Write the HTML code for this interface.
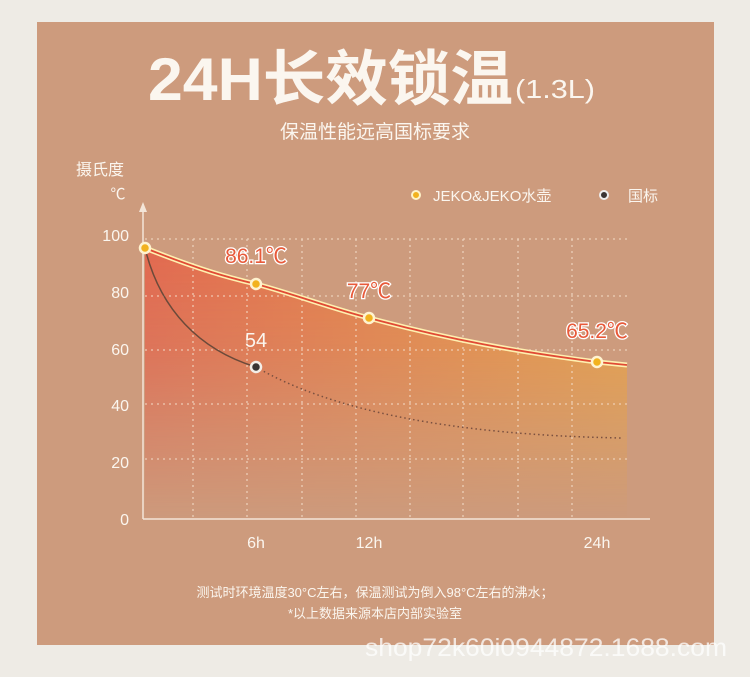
<!DOCTYPE html>
<html><head><meta charset="utf-8"><style>
body{margin:0;width:750px;height:677px;background:#eeebe5;overflow:hidden;font-family:"Liberation Sans","Noto Sans CJK SC",sans-serif}
</style></head><body>
<svg width="750" height="677" xmlns="http://www.w3.org/2000/svg" style="position:absolute;left:0;top:0">
<defs>
<linearGradient id="fh" x1="0" y1="0" x2="1" y2="0">
<stop offset="0" stop-color="#e2684f"/><stop offset="1" stop-color="#e8a248"/></linearGradient>
<linearGradient id="fv" x1="0" y1="0" x2="0" y2="1">
<stop offset="0" stop-color="#fff" stop-opacity="1"/><stop offset="0.4" stop-color="#fff" stop-opacity="0.75"/><stop offset="1" stop-color="#fff" stop-opacity="0"/></linearGradient>
<mask id="m"><rect x="0" y="240" width="750" height="280" fill="url(#fv)"/></mask>
</defs>
<rect x="37" y="22" width="677" height="623" fill="#cd9b7d"/>
<text x="148" y="100" font-size="60" font-weight="bold" fill="#fbf6ef" textLength="365" lengthAdjust="spacingAndGlyphs">24H长效锁温</text>
<text x="515" y="98" font-size="26" fill="#fbf6ef" textLength="80" lengthAdjust="spacingAndGlyphs">(1.3L)</text>
<text x="375" y="138" text-anchor="middle" font-size="19" fill="#fbf6ef">保温性能远高国标要求</text>
<text x="100" y="175" text-anchor="middle" font-size="16" fill="#fbf6ef">摄氏度</text>
<text x="118" y="199" text-anchor="middle" font-size="15" fill="#fbf6ef">℃</text>
<circle cx="416" cy="195" r="4" fill="#f2b21f" stroke="#fff3c8" stroke-width="2"/>
<text x="433" y="201" font-size="15" fill="#fbf6ef">JEKO&amp;JEKO水壶</text>
<circle cx="604" cy="195" r="4" fill="#3a3433" stroke="#eee" stroke-width="2"/>
<text x="628" y="201" font-size="15" fill="#fbf6ef">国标</text>
<path d="M145 248 C200 270 230 278 256 284 C300 296 330 308 369 318 C450 340 520 352 597 362 L627 365 L627 518 L145 518 Z" fill="url(#fh)" mask="url(#m)"/>
<g stroke="#f3dcc8" stroke-width="1.3" stroke-dasharray="2 4" opacity="0.8">
<line x1="145" y1="239" x2="630" y2="239"/><line x1="145" y1="296" x2="630" y2="296"/><line x1="145" y1="350" x2="630" y2="350"/><line x1="145" y1="404" x2="630" y2="404"/><line x1="145" y1="459" x2="630" y2="459"/>
<line x1="193" y1="239" x2="193" y2="518"/><line x1="247" y1="239" x2="247" y2="518"/><line x1="302" y1="239" x2="302" y2="518"/><line x1="356" y1="239" x2="356" y2="518"/><line x1="410" y1="239" x2="410" y2="518"/><line x1="463" y1="239" x2="463" y2="518"/><line x1="518" y1="239" x2="518" y2="518"/><line x1="572" y1="239" x2="572" y2="518"/>
</g>
<line x1="143" y1="205" x2="143" y2="519" stroke="#f3e5d8" stroke-width="1.5"/>
<path d="M139 212 L143 202 L147 212 Z" fill="#f3e5d8"/>
<line x1="143" y1="519" x2="650" y2="519" stroke="#f3e5d8" stroke-width="1.5"/>
<g font-size="16" fill="#fbf6ef" text-anchor="end">
<text x="129" y="241">100</text><text x="129" y="298">80</text><text x="129" y="355">60</text><text x="129" y="411">40</text><text x="129" y="468">20</text><text x="129" y="525">0</text></g>
<g font-size="16" fill="#fbf6ef" text-anchor="middle"><text x="256" y="548">6h</text><text x="369" y="548">12h</text><text x="597" y="548">24h</text></g>
<path d="M145 248 C160 310 200 350 256 367" fill="none" stroke="#6b4a3a" stroke-width="1.5"/>
<path d="M256 367 C330 410 450 435 622 438" fill="none" stroke="#7a5040" stroke-width="1.5" stroke-dasharray="1.5 3"/>
<path d="M145 248 C200 270 230 278 256 284 C300 296 330 308 369 318 C450 340 520 352 597 362 L627 365" fill="none" stroke="#fff0b0" stroke-width="5"/>
<path d="M145 248 C200 270 230 278 256 284 C300 296 330 308 369 318 C450 340 520 352 597 362 L627 365" fill="none" stroke="#e04a35" stroke-width="1.8"/>
<g fill="#f2b21f" stroke="#fff3d0" stroke-width="2.5">
<circle cx="145" cy="248" r="5"/><circle cx="256" cy="284" r="5"/><circle cx="369" cy="318" r="5"/><circle cx="597" cy="362" r="5"/></g>
<circle cx="256" cy="367" r="5" fill="#3a3433" stroke="#f3eee8" stroke-width="2.5"/>
<g font-size="21" fill="#e85a3a" stroke="#fff" stroke-width="2.5" paint-order="stroke" text-anchor="middle">
<text x="256" y="263">86.1℃</text><text x="369" y="298">77℃</text><text x="597" y="338">65.2℃</text></g>
<text x="256" y="347" font-size="20" fill="#fbf6ef" text-anchor="middle">54</text>
<text x="375" y="597" font-size="13" fill="#fbf6ef" text-anchor="middle">测试时环境温度30°C左右，保温测试为倒入98°C左右的沸水；</text>
<text x="375" y="618" font-size="13" fill="#fbf6ef" text-anchor="middle">*以上数据来源本店内部实验室</text>
<text x="546" y="656" font-size="25" fill="#ffffff" opacity="0.75" text-anchor="middle" textLength="362" lengthAdjust="spacingAndGlyphs">shop72k60i0944872.1688.com</text>
</svg>
</body></html>
